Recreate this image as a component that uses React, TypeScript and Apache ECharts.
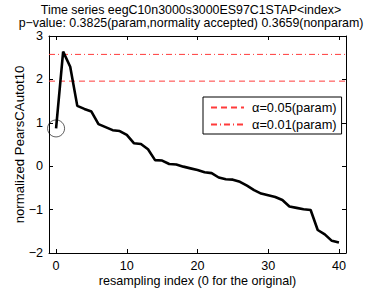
import React, { useEffect, useRef } from "react";
import * as echarts from "echarts";

const titleLines = [
  "Time series eegC10n3000s3000ES97C1STAP<index>",
  "p\u2212value: 0.3825(param,normality accepted) 0.3659(nonparam)",
];
const xLabel = "resampling index (0 for the original)";
const yLabel = "normalized PearsCAutot10";
const xTicks = [0, 10, 20, 30, 40];
const values = [
  0.87, 2.64, 2.29, 1.39, 1.32, 1.26, 0.97, 0.9, 0.83, 0.81, 0.72, 0.53, 0.51,
  0.39, 0.14, 0.13, 0.05, 0.04, -0.01, -0.05, -0.09, -0.14, -0.16, -0.26, -0.3,
  -0.31, -0.36, -0.45, -0.55, -0.63, -0.67, -0.71, -0.78, -0.93, -0.96, -0.99,
  -1.01, -1.47, -1.57, -1.72, -1.76,
];
const alpha05 = 1.96;
const alpha01 = 2.576;
const xRange = [-1, 41];
const legendNames = ["\u03b1=0.05(param)", "\u03b1=0.01(param)"];
const red = "#ff3b3b";

export default function App() {
  const ref = useRef<HTMLDivElement>(null);
  useEffect(() => {
    if (!ref.current) return;
    const chart = echarts.init(ref.current, null, { renderer: "svg" });
    const font = "'Liberation Sans', Arial, sans-serif";
    const fs = 12.6;
    const axisCommon = {
      axisLine: { show: true, onZero: false, lineStyle: { color: "#000", width: 1 } },
      axisTick: { inside: true, length: 4, lineStyle: { color: "#000" } },
      splitLine: { show: false },
    };
    chart.setOption({
      animation: false,
      backgroundColor: "#fff",
      textStyle: { fontFamily: font },
      title: {
        text: titleLines.join("\n"),
        left: "center",
        top: 3,
        padding: 0,
        textStyle: { fontSize: 12.4, fontWeight: "normal", color: "#000", lineHeight: 13, fontFamily: font },
      },
      grid: { left: 49, right: 36, top: 36, bottom: 35, outerBoundsMode: "none", containLabel: false },
      legend: {
        orient: "vertical",
        left: 203,
        top: 97,
        padding: [4, 5, 3, 7],
        itemGap: 4,
        itemWidth: 33,
        itemHeight: 10,
        borderColor: "#000",
        borderWidth: 1,
        backgroundColor: "#fff",
        borderRadius: 0,
        itemStyle: { opacity: 0 },
        textStyle: { fontSize: 12.8, color: "#000", fontFamily: font, padding: [0, 0, 0, 3] },
        data: legendNames,
      },
      xAxis: [
        {
          type: "value",
          min: xRange[0],
          max: xRange[1],
          ...axisCommon,
          axisTick: { ...axisCommon.axisTick, customValues: xTicks },
          axisLabel: { customValues: xTicks, color: "#000", fontSize: fs, margin: 6, fontFamily: font },
          name: xLabel,
          nameLocation: "middle",
          nameGap: 21,
          nameMoveOverlap: false,
          nameTextStyle: { fontSize: 12.6, color: "#000", fontFamily: font },
        },
        {
          type: "value",
          position: "top",
          min: xRange[0],
          max: xRange[1],
          ...axisCommon,
          axisTick: { ...axisCommon.axisTick, customValues: xTicks },
          axisLabel: { show: false, customValues: xTicks },
        },
      ],
      yAxis: [
        {
          type: "value",
          min: -2,
          max: 3,
          interval: 1,
          ...axisCommon,
          axisLabel: { color: "#000", fontSize: fs, lineHeight: 12, margin: 6, fontFamily: font, formatter: (v: number) => (v < 0 ? "\u2212" + Math.abs(v) : String(v)) },
          name: yLabel,
          nameLocation: "middle",
          nameGap: 23,
          nameMoveOverlap: false,
          nameTextStyle: { fontSize: 13.2, color: "#000", fontFamily: font },
        },
        {
          type: "value",
          position: "right",
          min: -2,
          max: 3,
          interval: 1,
          ...axisCommon,
          axisLabel: { show: false },
        },
      ],
      series: [
        {
          type: "line",
          data: values.map((v, i) => [i, v]),
          symbol: "none",
          color: "#000",
          lineStyle: { color: "#000", width: 2.6 },
          silent: true,
          z: 3,
        },
        {
          type: "scatter",
          data: [[0, values[0]]],
          symbolSize: 17,
          itemStyle: { color: "rgba(0,0,0,0)", borderColor: "#000", borderWidth: 0.8 },
          z: 4,
        },
        {
          name: legendNames[0],
          type: "line",
          data: [[xRange[0], alpha05], [xRange[1], alpha05]],
          symbol: "none",
          color: red,
          itemStyle: { color: red },
          lineStyle: { color: red, width: 1, type: [6, 4] },
          z: 2,
        },
        {
          name: legendNames[1],
          type: "line",
          data: [[xRange[0], alpha01], [xRange[1], alpha01]],
          symbol: "none",
          color: red,
          itemStyle: { color: red },
          lineStyle: { color: red, width: 1, type: [6, 3, 1, 3] },
          z: 2,
        },
      ],
    });
    return () => chart.dispose();
  }, []);
  return <div ref={ref} style={{ width: 382, height: 288, position: "absolute", left: 0, top: 0 }} />;
}
